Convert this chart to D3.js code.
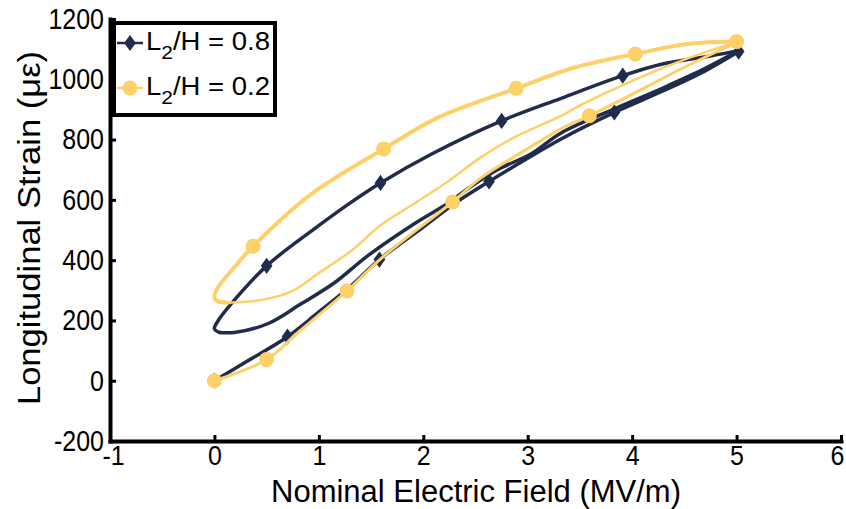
<!DOCTYPE html>
<html>
<head>
<meta charset="utf-8">
<script src="https://cdn.jsdelivr.net/npm/d3@7"></script>
<style>
  body { margin: 0; background: #fff; }
  text { font-family: "Liberation Sans", Arial, sans-serif; fill: #000; }
</style>
</head>
<body>
<svg id="chart" width="846" height="509"></svg>
<script>
// axis ticks
var xTicks = [-1, 0, 1, 2, 3, 4, 5, 6];
var yTicks = [-200, 0, 200, 400, 600, 800, 1000, 1200];

// L2/H = 0.8 loop, [field MV/m, strain]
var navyLower = [[0,0],[0.3,62],[0.7,146],[1.0,228],[1.3,312],[1.58,402],[2.0,510],[2.3,588],[2.63,661],[3.0,738],[3.32,802],[3.83,890],[4.3,962],[4.7,1028],[5.02,1092]];
var navyUpper = [[5.02,1095],[4.76,1078],[4.28,1050],[3.91,1012],[3.32,937],[2.75,862],[2.08,752],[1.59,656],[1.28,585],[0.95,502],[0.5,381],[0.16,255],[0.035,199],[0,172],[0.05,160]];
var navyMiddle = [[0.05,160],[0.19,160],[0.51,189],[0.83,255],[1.15,325],[1.47,415],[1.91,520],[2.24,590],[2.46,645],[2.71,700],[3.03,752],[3.32,822],[3.83,902],[4.3,972],[4.7,1036],[5.02,1095]];
var navyMarks = [[0,0],[0.7,146],[1.58,402],[2.63,661],[3.83,890],[5.02,1092],[3.91,1012],[2.75,862],[1.59,656],[0.5,381]];

// L2/H = 0.2 loop
var yellowLower = [[0,0],[0.5,70],[0.8,160],[1.27,298],[1.6,407],[2.28,593],[2.55,672],[3.0,770],[3.32,836],[3.59,879],[4.0,950],[4.5,1040],[5.0,1122]];
var yellowUpper = [[5.0,1125],[4.53,1117],[4.03,1084],[3.45,1039],[2.89,970],[2.14,873],[1.62,769],[0.93,620],[0.37,446],[0.19,376],[0.035,310],[0,275],[0.03,264],[0.13,259]];
var yellowMiddle = [[0.13,259],[0.45,268],[0.75,298],[0.99,355],[1.31,431],[1.6,518],[1.91,587],[2.24,662],[2.55,741],[2.87,807],[3.32,879],[3.51,915],[4.0,995],[4.5,1065],[5.0,1124]];
var yellowMarks = [[0,0],[0.5,70],[1.27,298],[2.28,593],[3.59,879],[5.0,1125],[4.03,1084],[2.89,970],[1.62,769],[0.37,446]];

var legendLabels = ["0.8", "0.2"];

var navy = "#212c4b", yellow = "#fdd06a";

var svg = d3.select("#chart");

var x = d3.scaleLinear().domain([-1, 6]).range([110, 841]);
var y = d3.scaleLinear().domain([-200, 1200]).range([441, 19]);

var line = d3.line()
    .x(function (d) { return x(d[0]); })
    .y(function (d) { return y(d[1]); })
    .curve(d3.curveCatmullRom.alpha(0.5));

var plot = svg.append("g");

function drawBranch(data, color, width) {
    plot.append("path")
        .datum(data)
        .attr("d", line)
        .attr("fill", "none")
        .attr("stroke", color)
        .attr("stroke-width", width)
        .attr("stroke-linejoin", "round")
        .attr("stroke-linecap", "round");
}

var diamond = d3.symbol().type(d3.symbolDiamond).size(90);
var diamondScale = " scale(1.15,0.92)";

// navy series first, yellow on top
drawBranch(navyLower, navy, 3.5);
drawBranch(navyMiddle, navy, 3.5);
drawBranch(navyUpper, navy, 3.5);
plot.selectAll(".dmark")
    .data(navyMarks)
    .enter()
    .append("path")
    .attr("class", "dmark")
    .attr("d", diamond)
    .attr("transform", function (d) {
        return "translate(" + x(d[0]) + "," + y(d[1]) + ")" + diamondScale;
    })
    .attr("fill", navy);

drawBranch(yellowLower, yellow, 3);
drawBranch(yellowMiddle, yellow, 2.5);
drawBranch(yellowUpper, yellow, 4);
plot.selectAll(".cmark")
    .data(yellowMarks)
    .enter()
    .append("circle")
    .attr("class", "cmark")
    .attr("cx", function (d) { return x(d[0]); })
    .attr("cy", function (d) { return y(d[1]); })
    .attr("r", 7.5)
    .attr("fill", yellow);

// axes
var xAxis = svg.append("g")
    .attr("transform", "translate(0," + y(-200) + ")")
    .call(d3.axisBottom(x).tickValues(xTicks).tickSize(-6).tickSizeOuter(0).tickPadding(4));
var yAxis = svg.append("g")
    .attr("transform", "translate(" + x(-1) + ",0)")
    .call(d3.axisLeft(y).tickValues(yTicks).tickSize(-6).tickSizeOuter(0).tickPadding(6));

[xAxis, yAxis].forEach(function (a) {
    a.select(".domain").attr("stroke", "#000").attr("stroke-width", 4).attr("stroke-linecap", "square");
    a.selectAll(".tick line").attr("stroke", "#000").attr("stroke-width", 3);
    a.selectAll(".tick text")
        .style("font-family", "'Liberation Sans', Arial, sans-serif")
        .style("font-size", "25px")
        .attr("fill", "#000")
        .text(function (d) { return d < 0 ? "-" + Math.abs(d) : d; });
});
// the reference draws tick numbers a little taller than wide
yAxis.selectAll(".tick text").attr("transform", "scale(1,1.17)");
xAxis.selectAll(".tick text").attr("transform", "scale(1,1.12)");
// nudge the two end labels so they stay clear of the corner and the page edge
xAxis.selectAll(".tick text").filter(function (d) { return d == -1; }).attr("x", 3);
xAxis.selectAll(".tick text").filter(function (d) { return d == 6; }).attr("x", -4);

// axis titles
svg.append("text")
    .attr("x", 476)
    .attr("y", 502)
    .attr("text-anchor", "middle")
    .style("font-size", "31px")
    .text("Nominal Electric Field (MV/m)");

svg.append("text")
    .attr("transform", "translate(40,228) scale(1,1.08) rotate(-90)")
    .attr("text-anchor", "middle")
    .style("font-size", "32px")
    .text("Longitudinal Strain (\u03bc\u03b5)");

// legend
var legend = svg.append("g");
legend.append("rect")
    .attr("x", 114)
    .attr("y", 23)
    .attr("width", 161)
    .attr("height", 92)
    .attr("fill", "#fff")
    .attr("stroke", "#000")
    .attr("stroke-width", 4);

var rows = legend.selectAll(".row")
    .data(legendLabels)
    .enter()
    .append("g")
    .attr("class", "row")
    .attr("transform", function (d, i) { return "translate(0," + (43 + i * 45) + ")"; });

rows.append("line")
    .attr("x1", 117).attr("x2", 143)
    .attr("y1", 0).attr("y2", 0)
    .attr("stroke", function (d, i) { return i == 0 ? navy : yellow; })
    .attr("stroke-width", 2.5);

rows.each(function (d, i) {
    var g = d3.select(this);
    if (i == 0) {
        g.append("path")
            .attr("d", diamond)
            .attr("transform", "translate(130,0)" + diamondScale)
            .attr("fill", navy);
    } else {
        g.append("circle").attr("cx", 130).attr("cy", 0).attr("r", 7.5).attr("fill", yellow);
    }
});

var label = rows.append("text")
    .attr("transform", "translate(146,7) scale(1.1,1)")
    .style("font-size", "25px");
label.append("tspan").text("L");
label.append("tspan").attr("dy", 9).style("font-size", "19px").text("2");
label.append("tspan").attr("dy", -9).text(function (d) { return "/H = " + d; });
</script>
</body>
</html>
